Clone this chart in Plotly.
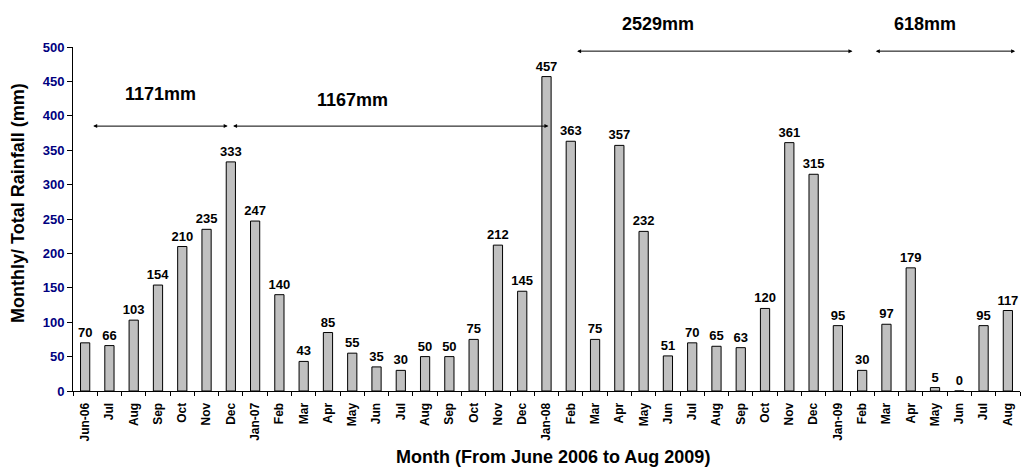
import plotly.graph_objects as go

# Monthly rainfall, June 2006 to August 2009
month_labels = ["Jun-06", "Jul", "Aug", "Sep", "Oct", "Nov", "Dec",
                "Jan-07", "Feb", "Mar", "Apr", "May", "Jun", "Jul", "Aug", "Sep", "Oct", "Nov", "Dec",
                "Jan-08", "Feb", "Mar", "Apr", "May", "Jun", "Jul", "Aug", "Sep", "Oct", "Nov", "Dec",
                "Jan-09", "Feb", "Mar", "Apr", "May", "Jun", "Jul", "Aug"]
rainfall_mm = [70, 66, 103, 154, 210, 235, 333,
               247, 140, 43, 85, 55, 35, 30, 50, 50, 75, 212, 145,
               457, 363, 75, 357, 232, 51, 70, 65, 63, 120, 361, 315,
               95, 30, 97, 179, 5, 0, 95, 117]

# Period totals: label, arrow span (bar index units), arrow level and label level (mm)
period_labels = ["1171mm", "1167mm", "2529mm", "618mm"]
period_start = [0.27, 6.03, 20.2, 32.5]
period_end = [5.87, 19.08, 31.6, 38.3]
period_arrow_y = [385, 385, 494, 494]
period_text_x = [3.1, 11.0, 23.6, 34.6]
period_text_y = [432, 423, 533, 533]

x = list(range(len(rainfall_mm)))
FONT = "Liberation Sans, Arial, sans-serif"
Y_MAX = 500
L, R, T, B = 73, 1, 47, 84
W, H = 1021, 475

fig = go.Figure(go.Bar(
    x=x, y=rainfall_mm,
    marker=dict(color="#C0C0C0", line=dict(color="black", width=1)),
    text=[str(v) for v in rainfall_mm],
    textposition="outside",
    constraintext="none",
    textangle=0,
    textfont=dict(family=FONT, size=13, color="black", weight="bold"),
    cliponaxis=False,
    width=0.38,
))

annotations = []
for lab, x0, x1, ya, tx, ty in zip(period_labels, period_start, period_end,
                                   period_arrow_y, period_text_x, period_text_y):
    annotations.append(dict(
        x=x1, y=ya, ax=x0, ay=ya, xref="x", yref="y", axref="x", ayref="y",
        text="", showarrow=True, arrowhead=2, arrowside="end+start",
        arrowsize=0.8, arrowwidth=1, arrowcolor="black",
    ))
    annotations.append(dict(
        x=tx, y=ty / Y_MAX, xref="x", yref="paper", text=lab, showarrow=False,
        xanchor="center", yanchor="middle",
        font=dict(family=FONT, size=18, color="black", weight="bold"),
    ))


def px_to_paper(px, py):
    return (px - L) / (W - L - R), (H - B - py) / (H - T - B)


# Axis titles, placed by pixel position
tx, ty = px_to_paper(553, 457)
annotations.append(dict(
    x=tx, y=ty, xref="paper", yref="paper", xanchor="center", yanchor="middle",
    text="Month (From June 2006 to Aug 2009)", showarrow=False,
    font=dict(family=FONT, size=18, color="black", weight="bold"),
))
tx, ty = px_to_paper(18, 203)
annotations.append(dict(
    x=tx, y=ty, xref="paper", yref="paper", xanchor="center", yanchor="middle",
    text="Monthly/ Total Rainfall (mm)", textangle=-90, showarrow=False,
    font=dict(family=FONT, size=18, color="black", weight="bold"),
))

fig.update_layout(
    width=W, height=H,
    margin=dict(l=L, r=R, t=T, b=B),
    plot_bgcolor="white", paper_bgcolor="white",
    showlegend=False,
    annotations=annotations,
    xaxis=dict(
        range=[-0.5, 38.5],
        tickmode="array", tickvals=x, ticktext=month_labels,
        tickangle=-90, ticks="", showgrid=False, zeroline=False,
        showline=True, linecolor="black", linewidth=1,
        ticklabelstandoff=6,
        tickfont=dict(family=FONT, size=12, color="black", weight="bold"),
        minor=dict(tickvals=[i - 0.5 for i in range(len(x) + 1)],
                   ticks="outside", ticklen=4, tickcolor="black", showgrid=False),
    ),
    yaxis=dict(
        range=[0, Y_MAX], dtick=50, ticks="outside", ticklen=5, tickcolor="black",
        showgrid=False, zeroline=False, showline=True, linecolor="black", linewidth=1,
        tickfont=dict(family=FONT, size=13, color="#000080", weight="bold"),
    ),
)

fig.write_html("out.html")
